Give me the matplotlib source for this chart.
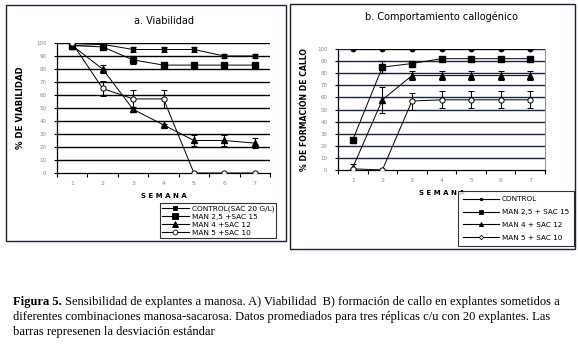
import matplotlib
matplotlib.use("Agg")
import matplotlib.pyplot as plt
from matplotlib.patches import Rectangle
from matplotlib.lines import Line2D

weeks = [1, 2, 3, 4, 5, 6, 7]
series_left = ["CONTROL(SAC 20 G/L)", "MAN 2,5 +SAC 15", "MAN 4 +SAC 12", "MAN 5 +SAC 10"]
series_right = ["CONTROL", "MAN 2,5 + SAC 15", "MAN 4 + SAC 12", "MAN 5 + SAC 10"]

via_control = [98, 99, 95, 95, 95, 90, 90]
via_control_err = [0, 2, 2, 2, 2, 1.5, 1.5]
via_man25 = [98, 97, 87, 83, 83, 83, 83]
via_man25_err = [0, 1, 3, 1.5, 1.5, 1.5, 1.5]
via_man4 = [98, 80, 49, 37, 25, 25, 23]
via_man4_err = [0, 3, 2, 0.5, 4, 4, 4]
via_man5 = [100, 65, 57, 57, 0, 0, 0]
via_man5_err = [0, 6, 7, 7, 0, 0, 0]

cal_control = [100, 100, 100, 100, 100, 100, 100]
cal_control_err = [0, 0, 0, 0, 0, 0, 0]
cal_man25 = [25, 85, 88, 92, 92, 92, 92]
cal_man25_err = [0, 5, 1, 1, 1, 1, 1]
cal_man4 = [2, 58, 78, 78, 78, 78, 78]
cal_man4_err = [3, 11, 4, 4, 4, 4, 4]
cal_man5 = [1, 0, 57, 58, 58, 58, 58]
cal_man5_err = [0, 0, 7, 7, 7, 7, 7]

yticks = list(range(0, 101, 10))

W, H = 578, 351
fig = plt.figure(figsize=(W / 100, H / 100), dpi=100)
fig.patch.set_facecolor("white")


def fx(px):
    return px / W


def fy(py):
    return 1 - py / H


def box(x0, y0, x1, y1, color="#1c2236", lw=1.0):
    fig.patches.append(Rectangle((fx(x0), fy(y1)), fx(x1) - fx(x0), fy(y0) - fy(y1),
                                 transform=fig.transFigure, fill=False,
                                 edgecolor=color, linewidth=lw))


box(6, 5, 286, 241)
box(290, 4, 575, 249)


def make_axes(x0, y0, x1, y1, gridcolor):
    ax = fig.add_axes([fx(x0), fy(y1), fx(x1) - fx(x0), fy(y0) - fy(y1)])
    ax.set_xlim(0.5, 7.5)
    ax.set_ylim(0, 100)
    for s in ["top", "right"]:
        ax.spines[s].set_visible(False)
    for s in ["left", "bottom"]:
        ax.spines[s].set_color("black")
        ax.spines[s].set_linewidth(0.9)
    ax.set_yticks(yticks)
    ax.set_yticklabels([str(v) for v in yticks], fontsize=4, color="#8a8a8a")
    ax.set_xticks(weeks)
    ax.set_xticklabels([str(w) for w in weeks], fontsize=4.5, color="#8a8a8a")
    ax.tick_params(axis="x", which="major", length=0, pad=6)
    ax.set_xticks([w + 0.5 for w in [0] + weeks], minor=True)
    ax.tick_params(axis="x", which="minor", length=3, width=0.8, direction="out")
    ax.tick_params(axis="y", length=2.5, width=0.8, pad=5)
    for v in yticks[1:]:
        ax.axhline(v, color=gridcolor, linewidth=1.0, zorder=1)
    ax.patch.set_alpha(0)
    return ax


ek = dict(ecolor="black", elinewidth=0.8, capsize=2.5, capthick=0.8, color="black",
          linewidth=0.7, zorder=3)

# Left panel
axl = make_axes(57, 43, 270, 173, "black")
axl.errorbar(weeks, via_control, yerr=via_control_err, marker="s", markersize=3.2,
             markerfacecolor="black", markeredgecolor="black", **ek)
axl.errorbar(weeks, via_man25, yerr=via_man25_err, marker="s", markersize=4.5,
             markerfacecolor="black", markeredgecolor="black", **ek)
axl.errorbar(weeks, via_man4, yerr=via_man4_err, marker="^", markersize=4.5,
             markerfacecolor="black", markeredgecolor="black", **ek)
axl.errorbar(weeks, via_man5, yerr=via_man5_err, marker="o", markersize=3.8,
             markerfacecolor="white", markeredgecolor="black", markeredgewidth=0.7, **ek)
axl.set_ylabel("% DE VIABILIDAD", fontsize=6.2, fontweight="bold", labelpad=8)
axl.set_xlabel("S E M A N A", fontsize=5, fontweight="bold", labelpad=5)
axl.set_title("a. Viabilidad", fontsize=7, pad=14)

# Right panel
axr = make_axes(338, 49, 545, 170, "#1a2340")
axr.spines["right"].set_visible(True)
axr.spines["right"].set_color("#9a9a9a")
axr.spines["right"].set_linewidth(0.8)
axr.errorbar(weeks, cal_control, yerr=cal_control_err, marker="o", markersize=3.2,
             markerfacecolor="black", markeredgecolor="black", **ek)
axr.errorbar(weeks, cal_man25, yerr=cal_man25_err, marker="s", markersize=4.5,
             markerfacecolor="black", markeredgecolor="black", **ek)
axr.errorbar(weeks, cal_man4, yerr=cal_man4_err, marker="^", markersize=4.5,
             markerfacecolor="black", markeredgecolor="black", **ek)
axr.errorbar(weeks, cal_man5, yerr=cal_man5_err, marker="o", markersize=3.8,
             markerfacecolor="white", markeredgecolor="black", markeredgewidth=0.7, **ek)
axr.set_ylabel("% DE FORMACIÓN DE CALLO", fontsize=5.6, fontweight="bold", labelpad=6)
axr.set_xlabel("S E M A N A", fontsize=5, fontweight="bold", labelpad=5)
axr.set_title("b. Comportamiento callogénico", fontsize=7, pad=21)


def handles(markers):
    hs = []
    for m, fc, ms in markers:
        hs.append(Line2D([], [], color="black", linewidth=0.8, marker=m, markersize=ms,
                         markerfacecolor=fc, markeredgecolor="black", markeredgewidth=0.6))
    return hs


hl = handles([("s", "black", 3), ("s", "black", 4), ("^", "black", 4), ("o", "white", 3.5)])
legl = fig.legend(hl, series_left, loc="upper left",
                  bbox_to_anchor=(fx(160), fy(203)), fontsize=5.3, frameon=True,
                  fancybox=False, borderpad=0.3, handlelength=3.6, handletextpad=0.4,
                  labelspacing=0.25, borderaxespad=0)
legl.get_frame().set_edgecolor("black")
legl.get_frame().set_linewidth(0.8)

hr = handles([("o", "black", 1.8), ("s", "black", 3), ("^", "black", 3), ("D", "white", 2.2)])
legr = fig.legend(hr, series_right, loc="upper left",
                  bbox_to_anchor=(fx(458), fy(191)), fontsize=5.2, frameon=True,
                  fancybox=False, borderpad=0.7, handlelength=5.0, handletextpad=0.4,
                  labelspacing=0.95, borderaxespad=0)
legr.get_frame().set_edgecolor("black")
legr.get_frame().set_linewidth(0.8)

# Caption
cap_font = dict(fontsize=9.0, family="Liberation Serif", va="center", ha="left")
t1 = fig.text(fx(13), fy(302), "Figura 5.", fontweight="bold", **cap_font)
fig.canvas.draw()
r = fig.canvas.get_renderer()
bb = t1.get_window_extent(renderer=r)
fig.text(bb.x1 / W + fx(3), fy(302),
         "Sensibilidad de explantes a manosa. A) Viabilidad  B) formación de callo en explantes sometidos a",
         **cap_font)
fig.text(fx(13), fy(317),
         "diferentes combinaciones manosa-sacarosa. Datos promediados para tres réplicas c/u con 20 explantes. Las",
         **cap_font)
fig.text(fx(13), fy(332), "barras represenen la desviación estándar", **cap_font)

fig.savefig("out.png", dpi=100, facecolor="white")
